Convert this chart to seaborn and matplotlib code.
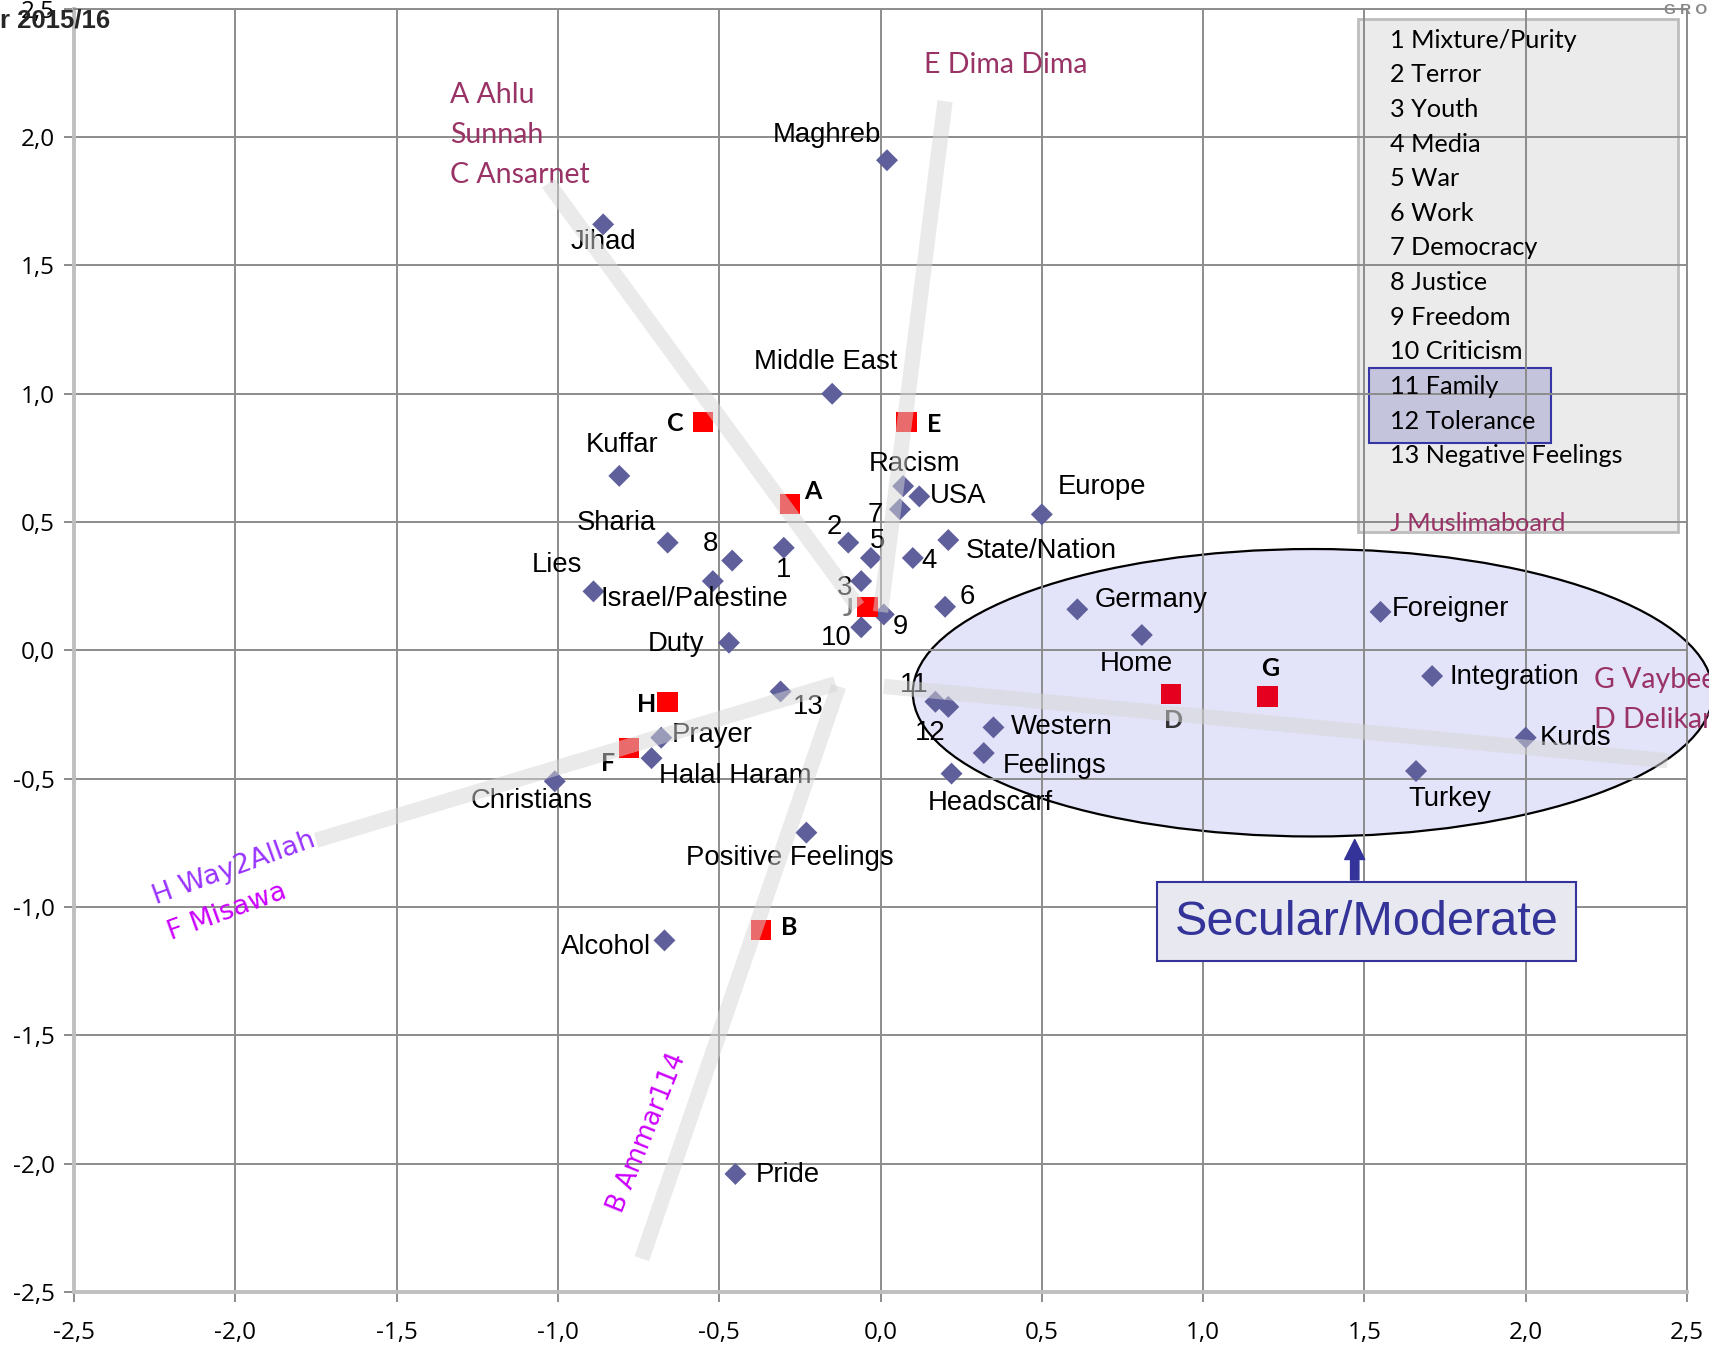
import pandas as pd
import matplotlib
matplotlib.use("Agg")
import matplotlib.pyplot as plt
from matplotlib.patches import Ellipse, Rectangle
from matplotlib.ticker import FuncFormatter, MultipleLocator
import seaborn as sns

# word positions (correspondence analysis map)
words = ["Maghreb", "Jihad", "Middle East", "Kuffar", "Racism", "USA", "Europe", "7",
         "Sharia", "8", "1", "2", "5", "4", "State/Nation", "Israel/Palestine", "Lies",
         "3", "6", "9", "10", "Duty", "Germany", "Home", "Foreigner", "Integration",
         "Kurds", "Turkey", "11", "12", "Western", "Feelings", "Headscarf", "13",
         "Prayer", "Halal Haram", "Christians", "Positive Feelings", "Alcohol", "Pride"]
word_x = [0.02, -0.86, -0.15, -0.81, 0.07, 0.12, 0.50, 0.06,
          -0.66, -0.46, -0.30, -0.10, -0.03, 0.10, 0.21, -0.52, -0.89,
          -0.06, 0.20, 0.01, -0.06, -0.47, 0.61, 0.81, 1.55, 1.71,
          2.00, 1.66, 0.17, 0.21, 0.35, 0.32, 0.22, -0.31,
          -0.68, -0.71, -1.01, -0.23, -0.67, -0.45]
word_y = [1.91, 1.66, 1.00, 0.68, 0.64, 0.60, 0.53, 0.55,
          0.42, 0.35, 0.40, 0.42, 0.36, 0.36, 0.43, 0.27, 0.23,
          0.27, 0.17, 0.14, 0.09, 0.03, 0.16, 0.06, 0.15, -0.10,
          -0.34, -0.47, -0.20, -0.22, -0.30, -0.40, -0.48, -0.16,
          -0.34, -0.42, -0.51, -0.71, -1.13, -2.04]

# forum positions
forums = ["A", "B", "C", "D", "E", "F", "G", "H", "J"]
forum_x = [-0.28, -0.37, -0.55, 0.90, 0.08, -0.78, 1.20, -0.66, -0.04]
forum_y = [0.57, -1.09, 0.89, -0.17, 0.89, -0.38, -0.18, -0.20, 0.17]

# legend list
legend_items = ["1 Mixture/Purity", "2 Terror", "3 Youth", "4 Media", "5 War", "6 Work",
                "7 Democracy", "8 Justice", "9 Freedom", "10 Criticism", "11 Family",
                "12 Tolerance", "13 Negative Feelings"]

# label offsets in points
word_off = [(-43, 18), (0, -13), (-5, 23), (2, 22), (8, 16), (28, 0), (43, 20), (-18, -4),
            (-37, 14), (-16, 12), (0, -16), (-10, 11), (5, 12), (12, -2), (67, -8), (-13, -13), (-26, 19),
            (-12, -5), (16, 7), (12, -9), (-18, -8), (-38, -1), (53, 7), (-4, -21), (50, 2), (59, -1),
            (36, 0), (24, -20), (-15, 12), (-13, -19), (49, 0), (51, -9), (28, -21), (20, -11),
            (37, 2), (60, -13), (-17, -14), (-12, -18), (-42, -5), (38, -1)]
forum_off = [(16, 9), (20, 2), (-20, -1), (2, -19), (20, -2), (-15, -11), (2, 20), (-15, -2), (-14, -1)]

# grey forum axes
axis_lines = {
    "AC": ([-1.03, -0.07], [1.82, 0.17]),
    "E": ([0.20, 0.00], [2.14, 0.15]),
    "HF": ([-1.75, -0.14], [-0.74, -0.13]),
    "B": ([-0.74, -0.13], [-2.37, -0.14]),
    "DG": ([0.01, 2.44], [-0.14, -0.43]),
}

sns.set_theme(style="white")
plt.rcParams["font.family"] = ["Liberation Sans", "DejaVu Sans"]

fig = plt.figure(figsize=(17.09, 13.55), dpi=100)
ax = fig.add_axes([0.0434, 0.0465, 0.9437, 0.947])

words_df = pd.DataFrame({"x": word_x, "y": word_y, "label": words})
forums_df = pd.DataFrame({"x": forum_x, "y": forum_y, "label": forums})

# secular ellipse and legend box (under grid)
ax.add_patch(Ellipse((1.34, -0.165), 2.48, 1.12, facecolor="#e3e3fa", edgecolor="black",
                     lw=1.6, zorder=0.2, clip_on=False))
ax.add_patch(Rectangle((1.48, 0.463), 0.993, 1.996, facecolor="#ebebeb", edgecolor="#bdbdbd",
                       lw=2, zorder=0.2))
ax.add_patch(Rectangle((1.514, 0.807), 0.564, 0.293, facecolor="#c4c4dc", edgecolor="#3535a5",
                       lw=1.5, zorder=0.3))

sns.scatterplot(data=words_df, x="x", y="y", marker="D", s=125, color="#5f5f9c",
                edgecolor="none", zorder=3, ax=ax)
forum_colors = ["#e60020" if f in ("D", "G") else "#ff0000" for f in forums]
sns.scatterplot(data=forums_df, x="x", y="y", marker="s", s=215, c=forum_colors,
                edgecolor="none", zorder=3, ax=ax)

for w, x, y, off in zip(words, word_x, word_y, word_off):
    ax.annotate(w, (x, y), xytext=off, textcoords="offset points", ha="center", va="center",
                fontsize=19.8, color="black", zorder=4)

for f, x, y, off in zip(forums, forum_x, forum_y, forum_off):
    col = "#777777" if f == "J" else ("#333333" if f == "D" else "black")
    ax.annotate(f, (x, y), xytext=off, textcoords="offset points", ha="center", va="center",
                fontsize=18, fontweight="bold", family=["Lato", "DejaVu Sans"], color=col, zorder=4)

# grey axes on top
for key, (lx, ly) in axis_lines.items():
    ax.plot(lx, ly, color="#d6d6d6", alpha=0.5, lw=11, solid_capstyle="butt", zorder=5)

# forum names
purple = "#993366"
for txt, x, y in [("A Ahlu", -1.334, 2.166), ("Sunnah", -1.334, 2.008), ("C Ansarnet", -1.334, 1.851),
                  ("E Dima Dima", 0.135, 2.280), ("G Vaybee", 2.213, -0.115), ("D Delikan", 2.213, -0.272)]:
    ax.text(x, y, txt, color=purple, fontsize=20.5, family=["Lato", "DejaVu Sans"],
            ha="left", va="center", zorder=4, clip_on=False)

ax.text(-2.003, -0.849, "H Way2Allah", color="#9933ff", fontsize=19.5, family=["DejaVu Sans"],
        rotation=20, ha="center", va="center", zorder=4)
ax.text(-2.027, -1.019, "F Misawa", color="#cc00ff", fontsize=19.5, family=["DejaVu Sans"],
        rotation=20, ha="center", va="center", zorder=4)
ax.text(-0.723, -1.881, "B Ammar114", color="#cc00ff", fontsize=18.5, family=["DejaVu Sans"],
        rotation=68, ha="center", va="center", zorder=4)

# legend list text
for i, item in enumerate(legend_items):
    ax.text(1.578, 2.378 - i * 0.135, item, fontsize=18.2, family=["Lato", "DejaVu Sans"],
            ha="left", va="center", color="black", zorder=4)
ax.text(1.578, 0.493, "J Muslimaboard", fontsize=18.2, family=["Lato", "DejaVu Sans"],
        ha="left", va="center", color=purple, zorder=4)

# secular/moderate box
ax.add_patch(Rectangle((0.858, -1.21), 1.297, 0.306, facecolor="#e8e8f0", edgecolor="#333399",
                       lw=1.5, zorder=6))
ax.text(1.506, -1.06, "Secular/Moderate", fontsize=35, color="#333399", ha="center", va="center",
        zorder=7)
ax.annotate("", xy=(1.47, -0.726), xytext=(1.47, -0.905),
            arrowprops=dict(arrowstyle="simple,head_length=1.2,head_width=1.2,tail_width=0.5",
                            color="#333399"), zorder=6)

# axes styling
ax.set_xlim(-2.5, 2.5)
ax.set_ylim(-2.5, 2.5)
ax.xaxis.set_major_locator(MultipleLocator(0.5))
ax.yaxis.set_major_locator(MultipleLocator(0.5))
fmt = FuncFormatter(lambda v, p: f"{v:.1f}".replace(".", ",").replace("-0,0", "0,0"))
ax.xaxis.set_major_formatter(fmt)
ax.yaxis.set_major_formatter(fmt)
ax.set_xlabel("")
ax.set_ylabel("")
ax.grid(True, color="#8c8c8c", lw=1.4)
ax.set_axisbelow(True)
for s in ["top", "right"]:
    ax.spines[s].set_color("#8c8c8c")
    ax.spines[s].set_linewidth(1.4)
for s in ["left", "bottom"]:
    ax.spines[s].set_color("#bfbfbf")
    ax.spines[s].set_linewidth(2.8)
ax.tick_params(axis="both", direction="out", length=7, width=1.4, color="#8c8c8c",
               labelsize=17.5, labelcolor="black", left=True, bottom=True)
ax.tick_params(axis="x", pad=14)
ax.tick_params(axis="y", pad=7)
for lab in ax.get_xticklabels() + ax.get_yticklabels():
    lab.set_family(["Open Sans", "DejaVu Sans"])

fig.text(0.0, 0.985, "r 2015/16", fontsize=18.5, fontweight="bold", ha="left", va="center")
fig.text(0.999, 0.998, "G R O", fontsize=11, fontweight="bold", color="#888888", ha="right", va="top")

fig.savefig("out.png", dpi=100)
